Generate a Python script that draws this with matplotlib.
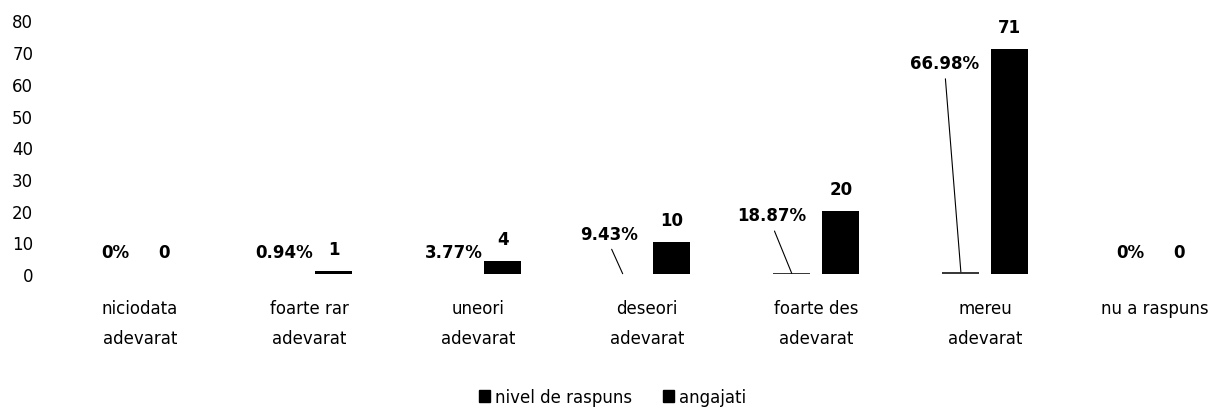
import numpy as np
import matplotlib
matplotlib.use("Agg")
import matplotlib.pyplot as plt
from matplotlib.patches import Patch

plt.rcParams['font.family'] = ['DejaVu Sans']

categories = ["niciodata\nadevarat", "foarte rar\nadevarat", "uneori\nadevarat",
              "deseori\nadevarat", "foarte des\nadevarat", "mereu\nadevarat",
              "nu a raspuns"]
nivel = [0.0, 0.0094, 0.0377, 0.0943, 0.1887, 0.6698, 0.0]   # nivel de raspuns
angajati = [0, 1, 4, 10, 20, 71, 0]
yticks = [0, 10, 20, 30, 40, 50, 60, 70, 80]

# labels pulled away from the bar, with a leader line (offset in pixels)
moved = {3: (-14, 40), 4: (-20, 58), 5: (-16, 209)}

fig = plt.figure(figsize=(12.25, 4.10), dpi=100)
ax = fig.add_axes([55.4 / 1225, 135 / 410, 1183.6 / 1225, 253.5 / 410])

x = np.arange(len(categories))
off = 0.145
w = 0.22
ax.bar(x - off, nivel, w, color='#3a3a3a', linewidth=0, label='nivel de raspuns')
ax.bar(x + off, angajati, w, color='black', label='angajati')

fs = 12
for i in range(len(categories)):
    v = nivel[i]
    txt = "0%" if v == 0 else f"{v * 100:.2f}%"
    if i in moved:
        dx, dy = moved[i]
        ax.annotate(txt, (x[i] - off, v), xytext=(dx, dy), textcoords='offset pixels',
                    ha='center', va='center', fontsize=fs, fontweight='bold',
                    arrowprops=dict(arrowstyle='-', lw=0.8, color='black',
                                    shrinkA=3, shrinkB=0, relpos=(0.5, 0)))
    else:
        ax.annotate(txt, (x[i] - off, v), xytext=(0, 17), textcoords='offset pixels',
                    ha='center', va='baseline', fontsize=fs, fontweight='bold')
    ax.annotate(str(angajati[i]), (x[i] + off, angajati[i]), xytext=(0, 17),
                textcoords='offset pixels', ha='center', va='baseline',
                fontsize=fs, fontweight='bold')

ax.set_xlim(-0.5, len(categories) - 0.5)
ax.set_ylim(0, 80)
ax.set_yticks(yticks)
ax.set_xticks(x)
ax.set_xticklabels(categories, fontsize=fs, linespacing=1.85)
ax.tick_params(axis='x', length=0, pad=18)
ax.tick_params(axis='y', length=0, pad=16, labelsize=fs)
for s in ax.spines.values():
    s.set_visible(False)

handles = [Patch(color='black'), Patch(color='black')]
fig.legend(handles, ['nivel de raspuns', 'angajati'], loc='center',
           bbox_to_anchor=(0.5, 12 / 410), ncol=2, frameon=False, fontsize=fs,
           handlelength=0.7, handleheight=0.7, handletextpad=0.3, columnspacing=1.8)

fig.savefig("out.png", dpi=100)
